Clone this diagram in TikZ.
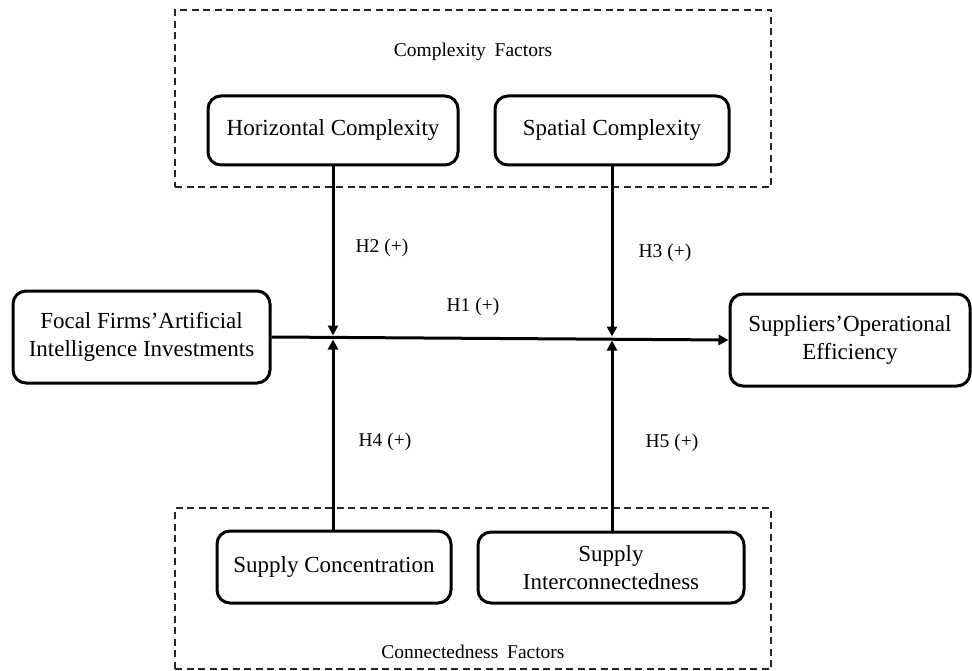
\documentclass[tikz,border=0pt]{standalone}
\usepackage{fontspec}
\setmainfont{Liberation Serif}
\usetikzlibrary{arrows.meta}
\begin{document}
\begin{tikzpicture}[x=1pt,y=-1pt,
  varbox/.style={draw=black,line width=3pt,rounded corners=13pt,align=center,inner sep=0pt,
    font=\fontsize{23}{27.6}\selectfont},
  groupbox/.style={draw=black!85,line width=1.4pt,dash pattern=on 7pt off 4.5pt,inner sep=0pt},
  lbl/.style={inner sep=0pt,font=\fontsize{19.5}{23}\selectfont},
  conn/.style={line width=3pt},
  arr/.style={line width=3pt,-{Triangle[length=10pt,width=10pt]}}]
\useasboundingbox (0,0) rectangle (972,671);
% group boxes
\node[groupbox,minimum width=596pt,minimum height=177pt] (topgrp) at (473,98.5) {};
\node[groupbox,minimum width=596pt,minimum height=161pt] (botgrp) at (473,588.5) {};
\node[lbl] (cf) at (473,52) {Complexity\hspace{0.45em}Factors};
\node[lbl] (nf) at (473,652) {Connectedness\hspace{0.45em}Factors};
% variable boxes
\node[varbox,minimum width=250pt,minimum height=69pt] (hc) at (333,130.5) {Horizontal Complexity};
\node[varbox,minimum width=234pt,minimum height=69pt] (sc) at (612,130.5) {Spatial Complexity};
\node[varbox,minimum width=257pt,minimum height=92pt] (focal) at (141.5,337) {Focal Firms’Artificial\\Intelligence Investments};
\node[varbox,minimum width=240pt,minimum height=92pt] (supp) at (850,340) {Suppliers’Operational\\Efficiency};
\node[varbox,minimum width=234pt,minimum height=72pt] (conc) at (334,567) {Supply Concentration};
\node[varbox,minimum width=266pt,minimum height=71pt] (inter) at (611,567.5) {Supply\\Interconnectedness};
% junction coordinates
\coordinate (j1t) at (333,335.5);
\coordinate (j1b) at (333,339.5);
\coordinate (j2t) at (612,336.5);
\coordinate (j2b) at (612,340.5);
% main path
\draw[arr] (focal.east) -- (supp.west);
% moderators
\draw[arr] (hc.south) -- (j1t);
\draw[arr] (sc.south) -- (j2t);
\draw[arr] (conc.north -| j1b) -- (j1b);
\draw[arr] (inter.north -| j2b) -- (j2b);
% labels
\node[lbl] (h1) at (473,307) {H1 (+)};
\node[lbl] (h2) at (382,248) {H2 (+)};
\node[lbl] (h3) at (665,253) {H3 (+)};
\node[lbl] (h4) at (385,442) {H4 (+)};
\node[lbl] (h5) at (672,443) {H5 (+)};
\end{tikzpicture}
\end{document}
